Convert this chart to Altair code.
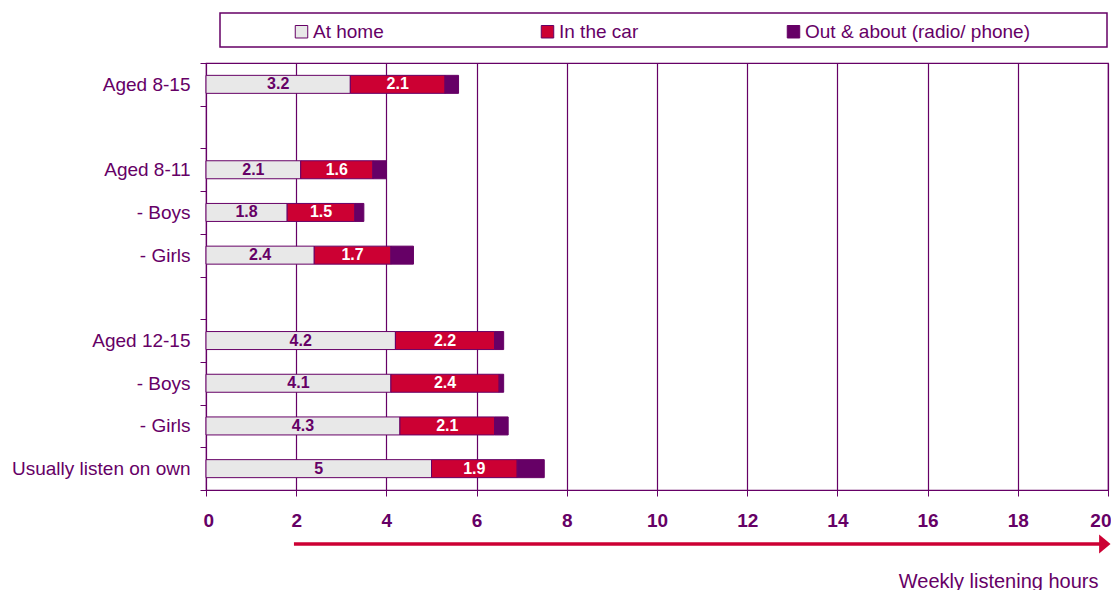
import altair as alt
import pandas as pd

# ---- data ----
rows = ["Aged 8-15", " ", "Aged 8-11", "- Boys", "- Girls", "  ",
        "Aged 12-15", "- Boys ", "- Girls ", "Usually listen on own"]
groups = ["Aged 8-15", "Aged 8-11", "- Boys", "- Girls",
          "Aged 12-15", "- Boys ", "- Girls ", "Usually listen on own"]
at_home = [3.2, 2.1, 1.8, 2.4, 4.2, 4.1, 4.3, 5.0]
in_car = [2.1, 1.6, 1.5, 1.7, 2.2, 2.4, 2.1, 1.9]
out_about = [0.3, 0.3, 0.2, 0.5, 0.2, 0.1, 0.3, 0.6]
series = ["At home", "In the car", "Out & about (radio/ phone)"]
colors = ["#E8E8E8", "#CC0033", "#660066"]
label_colors = ["#660066", "#FFFFFF", ""]
x_ticks = list(range(0, 21, 2))
arrow_from = [1.95]
arrow_to = [19.93]

purple = "#660066"
red = "#CC0033"

recs = []
for i, g in enumerate(groups):
    start = 0.0
    for s, vals, lc in zip(series, [at_home, in_car, out_about], label_colors):
        v = vals[i]
        recs.append({
            "row": g, "series": s, "value": v,
            "start": start, "end": start + v, "mid": start + v / 2,
            "label": (f"{v:g}" if lc else ""), "label_color": lc or "#000000",
        })
        start += v
df = pd.DataFrame(recs)
df_text = df[df["label"] != ""]
arrow_df = pd.DataFrame({"x0": arrow_from, "x1": arrow_to})

x_scale = alt.Scale(domain=[0, 20], nice=False, zero=True)
y_scale = alt.Scale(domain=rows, paddingInner=0, paddingOuter=0)

x_axis = alt.Axis(
    values=x_ticks, title="Weekly listening hours",
    titleX=892, titleY=97, titleAlign="right", titleBaseline="alphabetic",
    titleFontWeight="normal", titleFontSize=20, titleColor=purple,
    labelFontSize=19, labelFontWeight="bold", labelColor=purple,
    labelPadding=15, labelFlush=True, labelFlushOffset=3,
    tickSize=6, tickColor=purple,
    domainColor=purple, grid=True, gridColor=purple, gridWidth=1.2,
)
y_axis = alt.Axis(
    title=None, labelExpr="isValid(datum.value) ? trim(datum.value) : ''",
    labelFontSize=19, labelColor=purple, labelPadding=10, tickSize=6,
    tickColor=purple, domainColor=purple, tickBand="extent", grid=False,
    labelLimit=300,
)

legend_box = alt.Chart(pd.DataFrame({"a": [0]})).mark_rect(
    fill="white", fillOpacity=0, stroke=purple, strokeWidth=1.5
).encode(
    x=alt.value(14), x2=alt.value(901), y=alt.value(-50), y2=alt.value(-16)
)

bars = alt.Chart(df).mark_bar(size=18, stroke=purple, strokeWidth=1).encode(
    x=alt.X("start:Q", scale=x_scale, axis=x_axis),
    x2="end:Q",
    y=alt.Y("row:N", scale=y_scale, axis=y_axis, sort=rows),
    color=alt.Color(
        "series:N",
        scale=alt.Scale(domain=series, range=colors),
        legend=alt.Legend(
            title=None, orient="none", legendX=86, legendY=-41,
            direction="horizontal", columns=3, gridAlign="all",
            columnPadding=0, symbolType="square", symbolSize=156,
            symbolStrokeColor=purple, symbolStrokeWidth=1,
            labelFontSize=19, labelColor=purple, labelOffset=2,
            padding=0, labelLimit=400,
        ),
    ),
)

texts = alt.Chart(df_text).mark_text(
    fontSize=16, fontWeight="bold", baseline="middle", align="center"
).encode(
    x=alt.X("mid:Q", scale=x_scale, axis=x_axis),
    y=alt.Y("row:N", scale=y_scale, axis=y_axis, sort=rows),
    text="label:N",
    color=alt.Color("label_color:N", scale=None),
)

arrow_line = alt.Chart(arrow_df).mark_rule(color=red, strokeWidth=3.5).encode(
    x=alt.X("x0:Q", scale=x_scale, axis=x_axis),
    x2="x1:Q",
    y=alt.value(481),
)

arrow_head = alt.Chart(arrow_df).mark_point(
    shape="M-0.6,-1L0.6,0L-0.6,1Z", size=361, filled=True,
    color=red, opacity=1, strokeWidth=0,
).encode(
    x=alt.X("x1:Q", scale=x_scale, axis=x_axis),
    y=alt.value(481),
)

chart = alt.layer(legend_box, bars, texts, arrow_line, arrow_head).properties(
    width=902, height=427,
    padding={"left": 3, "top": 4, "right": 0, "bottom": 6},
).configure(
    font="Liberation Sans",
).configure_view(
    stroke=purple, strokeWidth=1.2,
)

chart.save("out.html", embed_options={"renderer": "svg", "actions": False})
